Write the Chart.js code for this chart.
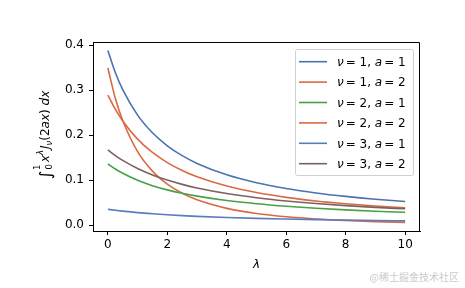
<!DOCTYPE html>
<html>
<head>
<meta charset="utf-8">
<script src="https://cdn.jsdelivr.net/npm/chart.js@4.4.1/dist/chart.umd.min.js"></script>
<style>
  body { margin: 0; background: #fff; }
  canvas { display: block; }
</style>
</head>
<body>
<canvas id="myChart" width="465" height="288"></canvas>
<script>
// lambda values along the x axis
const lambdas = [0, 0.25, 0.5, 1, 1.5, 2, 2.5, 3, 4, 5, 6, 7, 8, 9, 10];

// integral values, one array per (nu, a)
const nu1a1 = [0.388, 0.3393, 0.301, 0.2445, 0.2052, 0.1764, 0.1545, 0.1372, 0.1120, 0.0944, 0.0815, 0.0716, 0.0639, 0.0576, 0.0525];
const nu1a2 = [0.3493, 0.2822, 0.2324, 0.1633, 0.1200, 0.0910, 0.0708, 0.0563, 0.0373, 0.0259, 0.0186, 0.0138, 0.0104, 0.0079, 0.0061];
const nu2a1 = [0.1362, 0.1248, 0.1152, 0.0997, 0.0878, 0.0784, 0.0708, 0.0645, 0.0547, 0.0475, 0.0419, 0.0375, 0.0339, 0.0310, 0.0285];
const nu2a2 = [0.2892, 0.2577, 0.2316, 0.1912, 0.1615, 0.1390, 0.1215, 0.1075, 0.0869, 0.0724, 0.0618, 0.0538, 0.0475, 0.0424, 0.0383];
const nu3a1 = [0.0352, 0.0330, 0.0311, 0.0278, 0.0252, 0.0230, 0.0211, 0.0195, 0.0170, 0.0150, 0.0135, 0.0122, 0.0112, 0.0103, 0.0095];
const nu3a2 = [0.1672, 0.1547, 0.1439, 0.1259, 0.1116, 0.1001, 0.0906, 0.0827, 0.0703, 0.0610, 0.0538, 0.0480, 0.0434, 0.0395, 0.0363];

const xTicks = [0, 2, 4, 6, 8, 10];
const yTicks = [0.0, 0.1, 0.2, 0.3, 0.4];

// legend pieces: [nu, a]
const seriesNames = [['1', '1'], ['1', '2'], ['2', '1'], ['2', '2'], ['3', '1'], ['3', '2']];
const seriesValues = [nu1a1, nu1a2, nu2a1, nu2a2, nu3a1, nu3a2];
const colors = ['#4C72B0', '#DA6942', '#48A048', '#DA6942', '#5B7BBF', '#7F6060'];

const FONT = '"DejaVu Sans", sans-serif';

const datasets = seriesValues.map((vals, i) => ({
  label: 'nu=' + seriesNames[i][0] + ', a=' + seriesNames[i][1],
  data: lambdas.map((l, j) => ({ x: l, y: vals[j] })),
  borderColor: colors[i],
  backgroundColor: colors[i],
  borderWidth: 1.6,
  pointRadius: 0,
  cubicInterpolationMode: 'monotone',
  fill: false,
  order: seriesValues.length - i
}));

// draw a row of text pieces [text, font, dy, extra advance]
function drawPieces(ctx, pieces, x, y) {
  let cx = x;
  pieces.forEach(p => {
    ctx.font = p[1];
    ctx.fillText(p[0], cx, y + (p[2] || 0));
    cx += ctx.measureText(p[0]).width + (p[3] || 0);
  });
  return cx - x;
}
function piecesWidth(ctx, pieces) {
  let w = 0;
  pieces.forEach(p => { ctx.font = p[1]; w += ctx.measureText(p[0]).width + (p[3] || 0); });
  return w;
}

const extras = {
  id: 'extras',
  afterDraw(chart) {
    const ctx = chart.ctx;
    const a = chart.chartArea;
    ctx.save();

    // top and right spines
    ctx.strokeStyle = '#000';
    ctx.lineWidth = 1;
    ctx.beginPath();
    ctx.moveTo(Math.round(a.left) + 0.5, Math.round(a.top) + 0.5);
    ctx.lineTo(Math.round(a.right) - 0.5, Math.round(a.top) + 0.5);
    ctx.lineTo(Math.round(a.right) - 0.5, Math.round(a.bottom));
    ctx.stroke();

    // legend
    const lx = 295.5, ly = 49.5, lw = 118, lh = 126;
    ctx.fillStyle = 'rgba(255,255,255,0.8)';
    ctx.strokeStyle = '#d0d0d0';
    ctx.beginPath();
    ctx.roundRect(lx, ly, lw, lh, 2);
    ctx.fill();
    ctx.stroke();
    ctx.textBaseline = 'alphabetic';
    ctx.textAlign = 'left';
    chart.data.datasets.forEach((ds, i) => {
      const cy = 61.7 + i * 20.4;
      ctx.strokeStyle = ds.borderColor;
      ctx.lineWidth = 1.6;
      ctx.beginPath();
      ctx.moveTo(299, cy);
      ctx.lineTo(327, cy);
      ctx.stroke();
      ctx.fillStyle = '#000';
      const n = seriesNames[i];
      drawPieces(ctx, [
        ['\u03bd', 'italic 12px ' + FONT, 0, 2],
        ['= ' + n[0] + ', ', '12px ' + FONT, 0, 0],
        ['a', 'italic 12px ' + FONT, 0, 2],
        ['= ' + n[1], '12px ' + FONT, 0, 0]
      ], 337, cy + 4.3);
    });

    // x label
    ctx.fillStyle = '#000';
    ctx.font = 'italic 12px ' + FONT;
    ctx.textAlign = 'center';
    ctx.textBaseline = 'middle';
    ctx.fillText('\u03bb', (a.left + a.right) / 2, 265);

    // y label, rotated
    ctx.textAlign = 'left';
    ctx.textBaseline = 'alphabetic';
    const yl = [
      ['\u222b', '16px ' + FONT, 2, 1],
      ['1', '8.5px ' + FONT, -9, -5],
      ['0', '8.5px ' + FONT, 3, 2],
      ['x', 'italic 12px ' + FONT, 0, 0],
      ['\u03bb', 'italic 8.5px ' + FONT, -6, 1],
      ['J', 'italic 12px ' + FONT, 0, 0],
      ['\u03bd', 'italic 8.5px ' + FONT, 3, 0],
      ['(2', '12px ' + FONT, 0, 0],
      ['ax', 'italic 12px ' + FONT, 0, 0],
      [')', '12px ' + FONT, 0, 0],
      [' ', '12px ' + FONT, 0, 0],
      ['dx', 'italic 12px ' + FONT, 0, 0]
    ];
    const w = piecesWidth(ctx, yl);
    ctx.translate(49, 135);
    ctx.rotate(-Math.PI / 2);
    drawPieces(ctx, yl, -w / 2, 0);
    ctx.restore();

    // watermark
    ctx.save();
    ctx.fillStyle = '#c8c8c8';
    ctx.font = '10px "Noto Sans CJK SC"';
    ctx.textAlign = 'right';
    ctx.textBaseline = 'middle';
    ctx.fillText('@稀土掘金技术社区', 459, 277);
    ctx.restore();
  }
};

const ctx = document.getElementById('myChart');

new Chart(ctx, {
  type: 'line',
  data: { datasets: datasets },
  plugins: [extras],
  options: {
    responsive: false,
    animation: false,
    layout: { padding: { top: 42, right: 45, left: 0, bottom: 0 } },
    plugins: {
      legend: { display: false },
      title: { display: false },
      tooltip: { enabled: false }
    },
    scales: {
      x: {
        type: 'linear',
        min: -0.5,
        max: 10.5,
        afterBuildTicks: axis => { axis.ticks = xTicks.map(v => ({ value: v })); },
        afterFit: axis => { axis.height = 57; },
        border: { display: true, color: '#000', width: 1 },
        grid: { drawOnChartArea: false, drawTicks: true, tickLength: 4, color: '#000' },
        ticks: {
          color: '#000',
          padding: 3,
          maxRotation: 0,
          font: { family: FONT, size: 12 },
          callback: v => String(v)
        }
      },
      y: {
        min: -0.013,
        max: 0.407,
        afterBuildTicks: axis => { axis.ticks = yTicks.map(v => ({ value: v })); },
        afterFit: axis => { axis.width = 93; },
        border: { display: true, color: '#000', width: 1 },
        grid: { drawOnChartArea: false, drawTicks: true, tickLength: 4, color: '#000' },
        ticks: {
          color: '#000',
          padding: 5,
          font: { family: FONT, size: 12 },
          callback: v => v.toFixed(1)
        }
      }
    }
  }
});
</script>
</body>
</html>
